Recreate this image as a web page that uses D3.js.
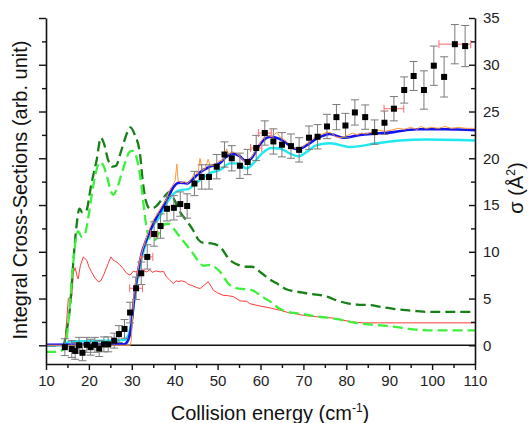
<!DOCTYPE html>
<html>
<head>
<meta charset="utf-8">
<script src="https://cdn.jsdelivr.net/npm/d3@7"></script>
<style>
  html, body { margin: 0; padding: 0; background: #fff; }
  text { font-family: "Liberation Sans", Arial, sans-serif; }
</style>
</head>
<body>
<div id="chart"></div>
<script>
// experimental points (energy, cross section, vertical error, horizontal error)
const expEnergy = [14.4, 16.0, 16.8, 17.7, 18.5, 19.5, 20.4, 21.4, 22.4, 23.5, 24.5, 25.9, 27.0, 28.3, 29.6,
  31.0, 32.2, 33.6, 35.2, 36.7, 38.2, 39.8, 41.3, 42.9, 44.6, 46.3, 48.0, 49.8, 51.6, 53.3,
  55.2, 57.0, 59.0, 61.0, 63.0, 65.0, 67.1, 69.0, 71.3, 73.3, 75.5, 77.7, 79.8, 82.0, 84.4,
  86.6, 88.9, 91.1, 93.5, 95.7, 98.1, 100.4, 102.8, 105.3, 107.7];
const expValue = [-0.2, -0.4, -0.6, 0.0, -0.8, 0.05, -0.2, 0.05, -0.35, 0.1, 0.1, 0.5, 1.2, 1.75, 3.5,
  6.1, 7.7, 9.45, 11.9, 12.75, 14.6, 14.7, 15.1, 14.9, 17.3, 18.0, 18.0, 19.1, 20.4, 20.0,
  19.2, 19.6, 21.1, 22.7, 21.8, 21.45, 21.3, 20.9, 22.2, 22.3, 23.4, 24.4, 23.5, 24.9, 24.4,
  22.8, 23.8, 25.3, 27.3, 28.8, 27.3, 29.9, 28.7, 32.2, 32.0];
const expErr = [0.9, 0.9, 0.9, 0.85, 0.85, 0.8, 0.85, 0.8, 0.85, 0.8, 0.8, 0.8, 0.9, 1.0, 1.1,
  1.2, 1.2, 1.3, 1.3, 1.3, 1.3, 1.3, 1.3, 1.3, 1.3, 1.3, 1.3, 1.3, 1.35, 1.35,
  1.35, 1.35, 1.35, 1.3, 1.35, 1.3, 1.3, 1.3, 1.25, 1.3, 1.3, 1.35, 1.3, 1.35, 1.3,
  1.3, 1.25, 1.3, 1.4, 1.55, 2.05, 2.1, 2.15, 2.1, 2.2];
const expEnergyErr = [0, 0, 0, 0, 0, 0, 0, 0, 0, 0, 0, 0, 0, 0, 0,
  1.5, 0, 1.3, 0.8, 0, 0, 0, 0, 0, 0, 0, 0, 0, 0, 0,
  0, 0, 1.3, 1.5, 0, 0, 0, 0, 0, 0, 0, 0, 0, 0, 0,
  0, 0, 2.3, 0, 0, 0, 0, 0, 3.7, 0];

// theory curves as [energy, value]
const blueCurve = [[10, 0.05], [28, 0.1], [28.6, 0.2], [29.2, 0.6], [29.7, 1.5], [30.1, 3], [30.5, 4.8],
  [31, 6.6], [31.5, 8.0], [32.3, 9.8], [33.5, 11.4], [34.6, 12.6], [35.8, 13.7], [37, 14.6],
  [38.5, 15.9], [39.7, 16.9], [40.5, 17.3], [41.2, 17.4], [42.8, 17.3], [44.3, 17.8], [45.9, 18.5],
  [48.2, 19.1], [50.6, 19.5], [52.1, 20.2], [53.7, 20.5], [55.2, 20.2], [56.6, 19.7], [57.9, 20.0],
  [59.2, 21.0], [60.6, 21.9], [62.4, 22.3], [64.3, 22.1], [66.1, 21.6], [67.8, 21.05], [68.8, 21.0],
  [70.8, 21.4], [73.1, 22.1], [76.2, 22.6], [79.3, 22.2], [83.2, 22.5], [87.1, 22.65], [91, 22.8],
  [96.4, 23.1], [103, 23.1], [110, 23.0]];
const cyanCurve = [[10, 0], [14.3, 0.02], [15, 0.3], [16, 0.42], [20, 0.45], [25, 0.5], [28, 0.55],
  [28.7, 0.7], [29.3, 1.2], [29.9, 2.5], [30.4, 4.2], [31, 6.2], [31.6, 7.8], [32.4, 9.5],
  [33.5, 11.2], [34.6, 12.5], [36.6, 13.8], [38.1, 15.2], [39.7, 16.2], [41.2, 16.6], [43.2, 16.7],
  [44.5, 17.2], [46.3, 17.8], [48.2, 18.4], [50.6, 18.75], [52.9, 19.45], [54.8, 19.45], [56.8, 18.9],
  [58.3, 19.45], [60.3, 20.5], [62.5, 21.1], [64.5, 21.05], [66.9, 20.5], [68.8, 20.2], [70.8, 20.7],
  [73.1, 21.4], [76.2, 21.6], [80.9, 21.2], [87.1, 21.6], [92.5, 21.9], [98.7, 22.0], [110, 21.9]];
const orangeCurve = [[10, 0], [29.6, 0], [29.9, 0.5], [30.2, 3.5], [30.6, 6], [31.2, 7.5], [31.8, 9],
  [32.5, 10.2], [33.2, 11.2], [34, 12.3], [35, 13.4], [36, 14.1], [37, 14.9], [38, 15.6], [38.8, 16.6],
  [39.5, 17.1], [40.1, 17.6], [40.5, 19.4], [40.8, 17.6], [41.5, 17.4], [42.3, 17.5], [43, 17.3],
  [44, 17.9], [44.8, 18.6], [45.4, 18.3], [45.9, 20.0], [46.4, 18.7], [47.1, 18.9], [47.8, 19.9],
  [48.3, 19.2], [49.3, 19.3], [50.3, 19.7], [51.2, 19.8], [52.1, 21.0], [52.6, 20.4], [53.3, 20.7],
  [54.2, 20.6], [55.2, 20.2], [56.2, 19.7], [57, 19.6], [58, 20.2], [59, 21.0], [60, 21.7],
  [61, 22.4], [62, 22.4], [62.8, 22.3], [63.8, 22.8], [64.5, 22.3], [65.5, 22.0], [66.5, 21.6],
  [67.5, 21.2], [68.5, 21.0], [69.5, 21.1], [70.5, 21.5], [71.5, 21.8], [72.5, 22.2], [73.5, 22.5],
  [74.5, 22.6], [75.5, 22.8], [76.5, 22.7], [77.5, 22.3], [78.5, 22.2], [79.5, 22.3], [80.5, 22.5],
  [81.5, 22.7], [82.5, 22.5], [83.5, 22.7], [84.5, 22.6], [86, 22.8], [87.5, 23.0], [89, 22.9],
  [90.5, 23.0], [92, 23.2], [93.5, 23.1], [95, 23.3], [96.5, 23.1], [97.3, 23.4], [98.5, 23.2],
  [100, 23.3], [101.5, 23.2], [103, 23.4], [104.5, 23.2], [106, 23.3], [108, 23.2], [110, 23.2]];
const redCurve = [[14, 0], [14.4, 0.3], [14.8, 2.5], [15.2, 5.0], [16, 5.2], [16.4, 7.8], [16.8, 8.3],
  [17.2, 7.5], [17.5, 7.1], [18, 8.5], [18.7, 9.45], [19.5, 9.1], [20, 8.4], [20.6, 7.85], [21.4, 7.2],
  [22.2, 6.8], [22.8, 6.9], [23.5, 7.6], [24.5, 8.75], [25.1, 9.45], [25.7, 9.1], [26.5, 8.9],
  [27.2, 8.6], [28, 8.2], [28.8, 7.7], [29.6, 7.5], [30.3, 7.9], [31.1, 7.85], [31.8, 8.3],
  [32.7, 8.0], [33.5, 7.85], [34.2, 8.1], [34.8, 7.8], [35.6, 7.95], [36.6, 7.85], [37.4, 7.9],
  [38.1, 7.3], [38.8, 7.0], [39.7, 6.6], [40.3, 6.9], [40.8, 6.8], [41.5, 6.9], [42.4, 6.8],
  [43.2, 6.5], [44, 6.4], [45, 6.2], [45.9, 6.07], [46.8, 6.4], [47.8, 6.8], [48.5, 6.3], [49, 5.9],
  [50, 5.6], [51.3, 5.35], [52.5, 5.3], [53.7, 5.2], [55.2, 4.75], [56.8, 4.7], [57.5, 4.45],
  [59.9, 4.2], [62.2, 4.0], [64.5, 3.75], [66.5, 3.5], [68.4, 3.35], [70, 3.2], [73.1, 3.05],
  [75, 3.0], [77, 2.9], [79, 2.7], [80.9, 2.55], [82.5, 2.45], [84, 2.4], [110, 2.4]];
const darkGreenCurve = [[10, 0], [14, 0], [14.8, 1.5], [15.6, 4.1], [16.4, 9.1], [17.1, 12.7], [17.8, 14.6],
  [18.5, 14.2], [19.3, 14.3], [20.6, 17.3], [21.8, 19.8], [22.8, 22.2], [23.5, 21.6], [24.5, 19.8],
  [25.5, 19.1], [26.3, 19.2], [27.6, 20.9], [29, 22.8], [29.7, 23.3], [30.7, 22.5], [31.9, 20.5],
  [32.5, 17.8], [33.2, 15.6], [34.3, 14.6], [35.5, 14.8], [37.4, 15.8], [38.8, 16.4], [40, 15.5],
  [41.2, 14.3], [42.8, 13.3], [44.3, 12.3], [45.5, 11.3], [46.7, 10.95], [48.5, 10.9], [50.6, 10.5],
  [52.9, 9.1], [54.8, 8.6], [56.8, 8.4], [58, 8.4], [60.3, 7.7], [62, 7.1], [64.2, 6.5], [66, 6.0],
  [67.6, 5.8], [69.6, 5.65], [71.5, 5.5], [73.5, 5.4], [75.5, 5.2], [77.8, 4.8], [80.1, 4.5],
  [82.5, 4.35], [85.5, 4.3], [88, 4.1], [91, 3.9], [94.1, 3.75], [96.5, 3.65], [98.7, 3.57],
  [104, 3.57], [110, 3.57]];
const lightGreenCurve = [[10, -0.7], [12.5, -0.7], [13.5, -0.6], [14.3, -0.3], [15, 1.5], [15.6, 4.5],
  [16.2, 8], [16.9, 11.2], [17.5, 12.2], [18.3, 11.6], [19, 11.8], [19.8, 13.5], [20.8, 16.5],
  [21.8, 18.8], [22.6, 19.6], [23.4, 19.2], [24.3, 17.9], [25.1, 16.5], [25.7, 16.1], [26.4, 16.6],
  [27.4, 18], [28.5, 19.6], [29.5, 20.7], [30.3, 20.8], [31.1, 20.1], [31.8, 18.5], [32.4, 16.5],
  [33, 14], [33.6, 12.2], [34.5, 11.2], [35.5, 11.3], [36.5, 12.2], [37.5, 12.9], [38.5, 13],
  [39.5, 12.6], [41.2, 11.6], [42.8, 10.7], [44.3, 9.8], [45.5, 9], [46.7, 8.5], [48.2, 8.6],
  [49.5, 8.3], [50.6, 7.85], [52.5, 6.6], [54.5, 6.1], [56.5, 6.0], [58.3, 5.85], [60, 5.3],
  [62.2, 4.7], [64.5, 3.9], [66.5, 3.55], [69.2, 3.4], [73.1, 3.1], [77, 2.85], [79, 2.7],
  [80.9, 2.5], [83.5, 2.3], [86.3, 2.2], [91, 2.0], [95.6, 1.7], [100, 1.6], [110, 1.6]];

const xTicks = [10, 20, 30, 40, 50, 60, 70, 80, 90, 100, 110];
const yTicks = [0, 5, 10, 15, 20, 25, 30, 35];

const width = 529, height = 423;
const plot = { left: 46, right: 475, top: 18, bottom: 364 };

const svg = d3
  .select("#chart")
  .append("svg")
  .attr("width", width)
  .attr("height", height);

const x = d3.scaleLinear().domain([10, 110]).range([plot.left, plot.right]);
const y = d3.scaleLinear().domain([-2, 35]).range([plot.bottom, plot.top]);

const minorX = d3.range(15, 110, 10);
const minorY = d3.range(2.5, 35, 5);

// zero line
svg
  .append("line")
  .attr("x1", plot.left)
  .attr("x2", plot.right)
  .attr("y1", y(0))
  .attr("y2", y(0))
  .attr("stroke", "#111")
  .attr("stroke-width", 1.5);

const smooth = d3
  .line()
  .x((d) => x(d[0]))
  .y((d) => y(d[1]))
  .curve(d3.curveMonotoneX);
const jagged = d3
  .line()
  .x((d) => x(d[0]))
  .y((d) => y(d[1]));

const curves = [
  { data: redCurve, line: jagged, color: "#ff3b3b", width: 1, dash: null },
  { data: darkGreenCurve, line: smooth, color: "#168016", width: 2.3, dash: "10,5" },
  { data: lightGreenCurve, line: smooth, color: "#3cf03c", width: 2.3, dash: "10,5" },
  { data: cyanCurve, line: smooth, color: "#1ee8f0", width: 2.4, dash: null },
  { data: blueCurve, line: smooth, color: "#1414f0", width: 2.6, dash: null },
  { data: orangeCurve, line: jagged, color: "#ff9a3a", width: 1, dash: null },
];

svg
  .selectAll(".curve")
  .data(curves)
  .join("path")
  .attr("class", "curve")
  .attr("d", (c) => c.line(c.data))
  .attr("fill", "none")
  .attr("stroke", (c) => c.color)
  .attr("stroke-width", (c) => c.width)
  .attr("stroke-dasharray", (c) => c.dash);

// experimental points
const points = expEnergy.map((e, i) => ({
  e: e,
  v: expValue[i],
  err: expErr[i],
  xerr: expEnergyErr[i],
}));

const errG = svg.append("g").attr("stroke", "#7a7a7a").attr("stroke-width", 1);
points.forEach((p) => {
  const cx = x(p.e),
    y1 = y(p.v + p.err),
    y2 = y(p.v - p.err);
  errG.append("line").attr("x1", cx).attr("x2", cx).attr("y1", y1).attr("y2", y2);
  errG.append("line").attr("x1", cx - 4).attr("x2", cx + 4).attr("y1", y1).attr("y2", y1);
  errG.append("line").attr("x1", cx - 4).attr("x2", cx + 4).attr("y1", y2).attr("y2", y2);
});

const xErrG = svg.append("g").attr("stroke", "#ff6a6a").attr("stroke-width", 1);
points
  .filter((p) => p.xerr > 0)
  .forEach((p) => {
    const cy = y(p.v),
      x1 = x(p.e - p.xerr),
      x2 = x(p.e + p.xerr);
    xErrG.append("line").attr("x1", x1).attr("x2", x2).attr("y1", cy).attr("y2", cy);
    xErrG.append("line").attr("x1", x1).attr("x2", x1).attr("y1", cy - 4).attr("y2", cy + 4);
    xErrG.append("line").attr("x1", x2).attr("x2", x2).attr("y1", cy - 4).attr("y2", cy + 4);
  });

svg
  .selectAll(".pt")
  .data(points)
  .join("rect")
  .attr("class", "pt")
  .attr("x", (p) => x(p.e) - 3)
  .attr("y", (p) => y(p.v) - 3)
  .attr("width", 6)
  .attr("height", 6)
  .attr("fill", "#000");

// axes
const styleAxis = (g) => {
  g.select(".domain").attr("stroke", "#111").attr("stroke-width", 1.6);
  g.selectAll(".tick line").attr("stroke", "#111").attr("stroke-width", 1.4);
  g.selectAll(".tick text").attr("font-size", 15).attr("fill", "#222");
};

svg
  .append("g")
  .attr("transform", `translate(0, ${plot.bottom})`)
  .call(d3.axisBottom(x).tickValues(xTicks).tickSize(6).tickSizeOuter(0).tickPadding(5))
  .call(styleAxis);
svg
  .append("g")
  .attr("transform", `translate(0, ${plot.bottom})`)
  .call(d3.axisBottom(x).tickValues(minorX).tickSize(4).tickFormat(""))
  .call((g) => g.select(".domain").remove())
  .call(styleAxis);

svg
  .append("g")
  .attr("transform", `translate(${plot.left}, 0)`)
  .call(d3.axisLeft(y).tickValues(yTicks).tickSize(7).tickSizeOuter(0).tickFormat(""))
  .call(styleAxis);
svg
  .append("g")
  .attr("transform", `translate(${plot.left}, 0)`)
  .call(d3.axisLeft(y).tickValues(minorY).tickSize(4).tickFormat(""))
  .call((g) => g.select(".domain").remove())
  .call(styleAxis);

svg
  .append("g")
  .attr("transform", `translate(${plot.right}, 0)`)
  .call(d3.axisRight(y).tickValues(yTicks).tickSize(-6).tickSizeOuter(0).tickPadding(8))
  .call(styleAxis);
svg
  .append("g")
  .attr("transform", `translate(${plot.right}, 0)`)
  .call(d3.axisRight(y).tickValues(minorY).tickSize(-4).tickFormat(""))
  .call((g) => g.select(".domain").remove())
  .call(styleAxis);

// axis titles
svg
  .append("text")
  .attr("transform", `translate(27, 190) rotate(-90)`)
  .attr("text-anchor", "middle")
  .attr("font-size", 20)
  .attr("fill", "#111")
  .text("Integral Cross-Sections (arb. unit)");

const xTitle = svg
  .append("text")
  .attr("x", 270)
  .attr("y", 420)
  .attr("text-anchor", "middle")
  .attr("font-size", 20)
  .attr("fill", "#111");
xTitle.append("tspan").text("Collision energy (cm");
xTitle.append("tspan").attr("font-size", 12).attr("dy", -8).text("-1");
xTitle.append("tspan").attr("dy", 8).text(")");

const yTitle = svg
  .append("text")
  .attr("transform", `translate(523, 188) rotate(-90)`)
  .attr("text-anchor", "middle")
  .attr("font-size", 20)
  .attr("fill", "#111");
yTitle.append("tspan").text("σ (Å");
yTitle.append("tspan").attr("font-size", 12).attr("dy", -8).text("2");
yTitle.append("tspan").attr("dy", 8).text(")");
</script>
</body>
</html>
